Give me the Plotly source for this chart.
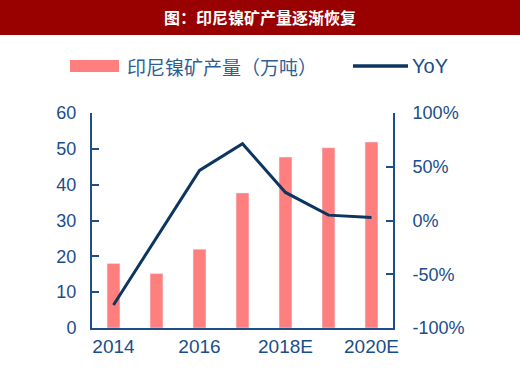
import plotly.graph_objects as go

categories = ["2014", "2015", "2016", "2017", "2018E", "2019E", "2020E"]
production = [18.0, 15.2, 22.0, 37.7, 47.7, 50.3, 51.9]
yoy = [-78.6, -16.0, 46.6, 71.4, 26.1, 5.0, 2.8]
shown_ticks = ["2014", "2016", "2018E", "2020E"]
left_ticks = [0, 10, 20, 30, 40, 50, 60]
right_ticks = [-100, -50, 0, 50, 100]
right_labels = ["-100%", "-50%", "0%", "50%", "100%"]

W, H = 520, 370
L, R, T, B = 92, 127, 113, 42
PW, PH = W - L - R, H - T - B

def px(x):
    return (x - L) / PW

def py(y):
    return (H - B - y) / PH

AX = "#1f4e8c"
TXT = "#1a4d8a"
BAR = "#ff7f7f"
LINE = "#0c3560"
FONT = "Liberation Sans, Arial, sans-serif"
CJK = "Noto Sans CJK SC"

fig = go.Figure()
fig.add_trace(go.Bar(x=categories, y=production, marker_color=BAR, width=0.3,
                     name="印尼镍矿产量（万吨）", showlegend=False))
fig.add_trace(go.Scatter(x=categories, y=yoy, yaxis="y2", mode="lines",
                         line=dict(color=LINE, width=3), name="YoY", showlegend=False))

shapes = [
    dict(type="rect", xref="paper", yref="paper", x0=px(0), x1=px(W), y0=py(35), y1=py(0),
         fillcolor="#990000", line=dict(width=0), layer="below"),
    dict(type="rect", xref="paper", yref="paper", x0=px(70), x1=px(119), y0=py(72), y1=py(60),
         fillcolor=BAR, line=dict(width=0)),
    dict(type="line", xref="paper", yref="paper", x0=px(353), x1=px(408), y0=py(66), y1=py(66),
         line=dict(color=LINE, width=3.5)),
]
annotations = [
    dict(text="<b>图：印尼镍矿产量逐渐恢复</b>", xref="paper", yref="paper", x=px(260), y=py(17),
         xanchor="center", yanchor="middle", showarrow=False,
         font=dict(family=CJK, size=16, color="white")),
    dict(text="印尼镍矿产量（万吨）", xref="paper", yref="paper", x=px(125), y=py(66),
         xanchor="left", yanchor="middle", showarrow=False,
         font=dict(family=CJK, size=19, color="#2f5f92")),
    dict(text="YoY", xref="paper", yref="paper", x=px(410), y=py(66),
         xanchor="left", yanchor="middle", showarrow=False,
         font=dict(family=FONT, size=20, color=TXT)),
]

fig.update_layout(
    width=W, height=H, margin=dict(l=L, r=R, t=T, b=B, pad=0),
    paper_bgcolor="white", plot_bgcolor="white",
    shapes=shapes, annotations=annotations, showlegend=False,
    xaxis=dict(type="category", categoryorder="array", categoryarray=categories,
               tickvals=shown_ticks, ticktext=shown_ticks, ticks="",
               showline=True, linecolor=AX, linewidth=2, showgrid=False,
               tickfont=dict(family=FONT, size=19, color=TXT), range=[-0.5, 6.5]),
    yaxis=dict(range=[0, 60], tickvals=left_ticks, ticks="inside", ticklen=7, tickwidth=2,
               tickcolor=AX, showline=True, linecolor=AX, linewidth=2, showgrid=False,
               zeroline=False, tickfont=dict(family=FONT, size=18, color=TXT),
               ticklabelstandoff=10),
    yaxis2=dict(range=[-100, 100], tickvals=right_ticks, ticktext=right_labels, overlaying="y",
                side="right", ticks="inside", ticklen=7, tickwidth=2, tickcolor=AX,
                showline=True, linecolor=AX, linewidth=2, showgrid=False, zeroline=False,
                tickfont=dict(family=FONT, size=18, color=TXT), ticklabelstandoff=14),
)

fig.write_html("out.html", config={"displayModeBar": False},
               post_script="document.body.style.margin='0';document.body.style.padding='0';")
